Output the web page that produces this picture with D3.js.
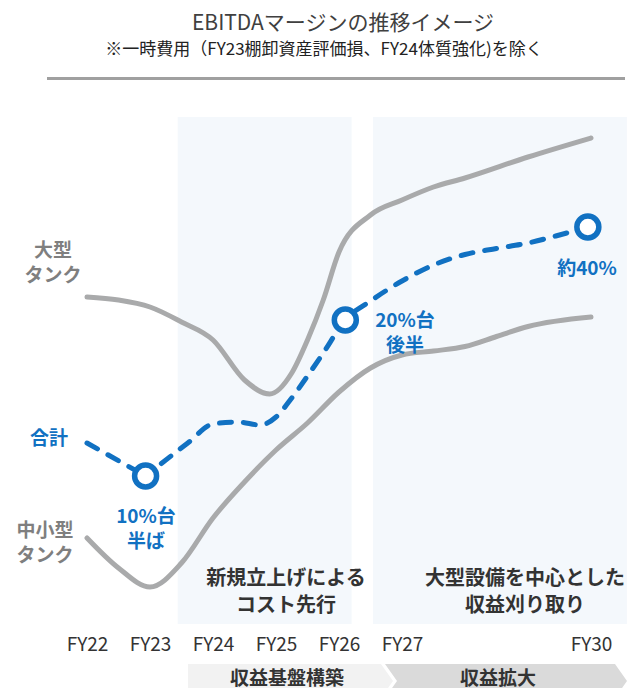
<!DOCTYPE html>
<html><head><meta charset="utf-8">
<script src="https://cdn.jsdelivr.net/npm/d3@7"></script>
<style>
html,body{margin:0;padding:0;background:#fff;}
svg{display:block;font-family:"Noto Sans CJK JP","Noto Sans",sans-serif;}
</style></head>
<body>
<script>
// ---- data ----
const tickYears = [22, 23, 24, 25, 26, 27, 30];
const tickLabels = ["FY22", "FY23", "FY24", "FY25", "FY26", "FY27", "FY30"];

const largeX = [22, 22.5, 23, 23.5, 24, 24.5, 24.9, 25.25, 25.5, 25.75, 26, 26.5, 27, 27.5, 28, 29, 30];
const largeV = [60.6, 60, 58.6, 55.6, 52, 44, 41.2, 45.4, 52, 60, 69.6, 77, 80, 82.6, 84.4, 88.6, 92.4];

const smallX = [22, 22.5, 23, 23.5, 24, 24.5, 25, 25.5, 26, 26.5, 27, 27.5, 28, 28.5, 29, 30];
const smallV = [12.4, 6.4, 2.6, 7.4, 16.4, 23.6, 30, 35.4, 41.6, 46.4, 49, 49.8, 50.7, 52.7, 54.7, 56.6];

const totalX = [22, 22.93, 23.6, 24.0, 24.4, 24.75, 25.0, 25.25, 25.5, 25.75, 26.1, 26.5, 27, 27.5, 28, 28.5, 29, 29.5, 29.95];
const totalV = [31.4, 24.8, 31.4, 35.2, 35.6, 35.0, 36.6, 40.4, 44.8, 49.4, 56, 59.8, 63.8, 67, 69.1, 70.3, 71.4, 73, 74.6];

const markerX = [22.93, 26.1, 29.95];
const markerV = [24.8, 56, 74.6];
const markerLabels = [["10%台", "半ば"], ["20%台", "後半"], ["約40%"]];

const phaseLabels = ["収益基盤構築", "収益拡大"];
const noteLabels = [["新規立上げによる", "コスト先行"], ["大型設備を中心とした", "収益刈り取り"]];

// ---- setup ----
const W = 633, H = 688;
const blue = "#1171C2", gray = "#A9AAAB";
const svg = d3.select("body").append("svg").attr("width", W).attr("height", H);

const x = d3.scaleLinear().domain([22, 30]).range([87, 591]);
const y = d3.scaleLinear().domain([0, 100]).range([600, 100]);

// multi-line text helper (one text element, tspans)
function multi(lines, cx, cy, lh, size, color, weight) {
  const t = svg.append("text").attr("x", cx).attr("y", cy)
    .attr("text-anchor", "middle").attr("font-size", size)
    .attr("font-weight", weight || "bold").attr("fill", color);
  lines.forEach((s, j) => {
    t.append("tspan").attr("x", cx).attr("y", cy + j * lh)
      .attr("dominant-baseline", "central").text(s);
  });
  return t;
}

// shaded periods
const bands = [[x(23.44), x(26.2)], [x(26.54), x(30.57)]];
svg.selectAll("rect.band").data(bands).join("rect")
  .attr("class", "band")
  .attr("x", d => d[0]).attr("width", d => d[1] - d[0])
  .attr("y", 117).attr("height", 507)
  .attr("fill", "#F4F8FC");

// title
svg.append("text").attr("x", 343).attr("y", 21).attr("text-anchor", "middle")
  .attr("dominant-baseline", "central").attr("font-size", 21).attr("fill", "#404040")
  .text("EBITDAマージンの推移イメージ");
svg.append("text").attr("x", 324).attr("y", 47).attr("text-anchor", "middle")
  .attr("dominant-baseline", "central").attr("font-size", 17).attr("fill", "#222")
  .text("※一時費用（FY23棚卸資産評価損、FY24体質強化)を除く");
svg.append("line").attr("x1", 47).attr("x2", 625).attr("y1", 78.5).attr("y2", 78.5)
  .attr("stroke", "#A0A0A0").attr("stroke-width", 3);

// lines
const lineGen = d3.line().x(d => x(d[0])).y(d => y(d[1])).curve(d3.curveMonotoneX);
const zip = (a, b) => a.map((v, i) => [v, b[i]]);

svg.append("path").datum(zip(largeX, largeV)).attr("d", lineGen)
  .attr("fill", "none").attr("stroke", gray).attr("stroke-width", 5).attr("stroke-linecap", "round");
svg.append("path").datum(zip(smallX, smallV)).attr("d", lineGen)
  .attr("fill", "none").attr("stroke", gray).attr("stroke-width", 5).attr("stroke-linecap", "round");

const total = zip(totalX, totalV);
svg.append("path").datum(total.slice(0, 2)).attr("d", d3.line().x(d => x(d[0])).y(d => y(d[1])))
  .attr("fill", "none").attr("stroke", blue).attr("stroke-width", 5)
  .attr("stroke-linecap", "round").attr("stroke-dasharray", "12 12");
svg.append("path").datum(total.slice(1)).attr("d", lineGen)
  .attr("fill", "none").attr("stroke", blue).attr("stroke-width", 5)
  .attr("stroke-linecap", "round").attr("stroke-dasharray", "12 12").attr("stroke-dashoffset", 4);

const markers = zip(markerX, markerV);
svg.selectAll("circle.m").data(markers).join("circle").attr("class", "m")
  .attr("cx", d => x(d[0])).attr("cy", d => y(d[1])).attr("r", 11)
  .attr("fill", "#fff").attr("stroke", blue).attr("stroke-width", 5.5);

// marker labels
const labelPos = [[146, 514], [405, 318], [587, 266]];
markerLabels.forEach((lines, i) => multi(lines, labelPos[i][0], labelPos[i][1], 25, 19, blue));

// series labels
multi(["大型", "タンク"], 53, 248, 25, 19, "#7F7F7F");
multi(["合計"], 49, 436, 25, 19, blue);
multi(["中小型", "タンク"], 45, 528, 25, 19, "#7F7F7F");

// notes in bands
const notePos = [[286, 576], [525, 576]];
noteLabels.forEach((lines, i) => multi(lines, notePos[i][0], notePos[i][1], 27, 20, "#333"));

// x axis
const axis = d3.axisBottom(x).tickValues(tickYears).tickFormat((d, i) => tickLabels[i]).tickSize(0).tickPadding(0);
const gAx = svg.append("g").attr("transform", "translate(0,642)").call(axis);
gAx.select(".domain").remove();
gAx.selectAll("text").attr("font-size", 19).attr("fill", "#333")
  .attr("font-family", "'Noto Sans CJK JP',sans-serif").attr("dy", null)
  .attr("dominant-baseline", "central");

// phase chevrons
const cTop = 664, cBot = 698, cMid = (cTop + cBot) / 2;
const chev = [
  {pts: [[188, cTop], [381, cTop], [393, cMid], [381, cBot], [188, cBot]], fill: "#F2F2F2", tx: 287},
  {pts: [[385, cTop], [615, cTop], [627, cMid], [615, cBot], [385, cBot], [397, cMid]], fill: "#DADADA", tx: 498}
];
chev.forEach((c, i) => {
  svg.append("polygon").attr("points", c.pts.map(p => p.join(",")).join(" ")).attr("fill", c.fill);
  svg.append("text").attr("x", c.tx).attr("y", 676).attr("text-anchor", "middle")
    .attr("dominant-baseline", "central").attr("font-size", 19).attr("font-weight", "bold")
    .attr("fill", "#333").text(phaseLabels[i]);
});
</script>
</body></html>
